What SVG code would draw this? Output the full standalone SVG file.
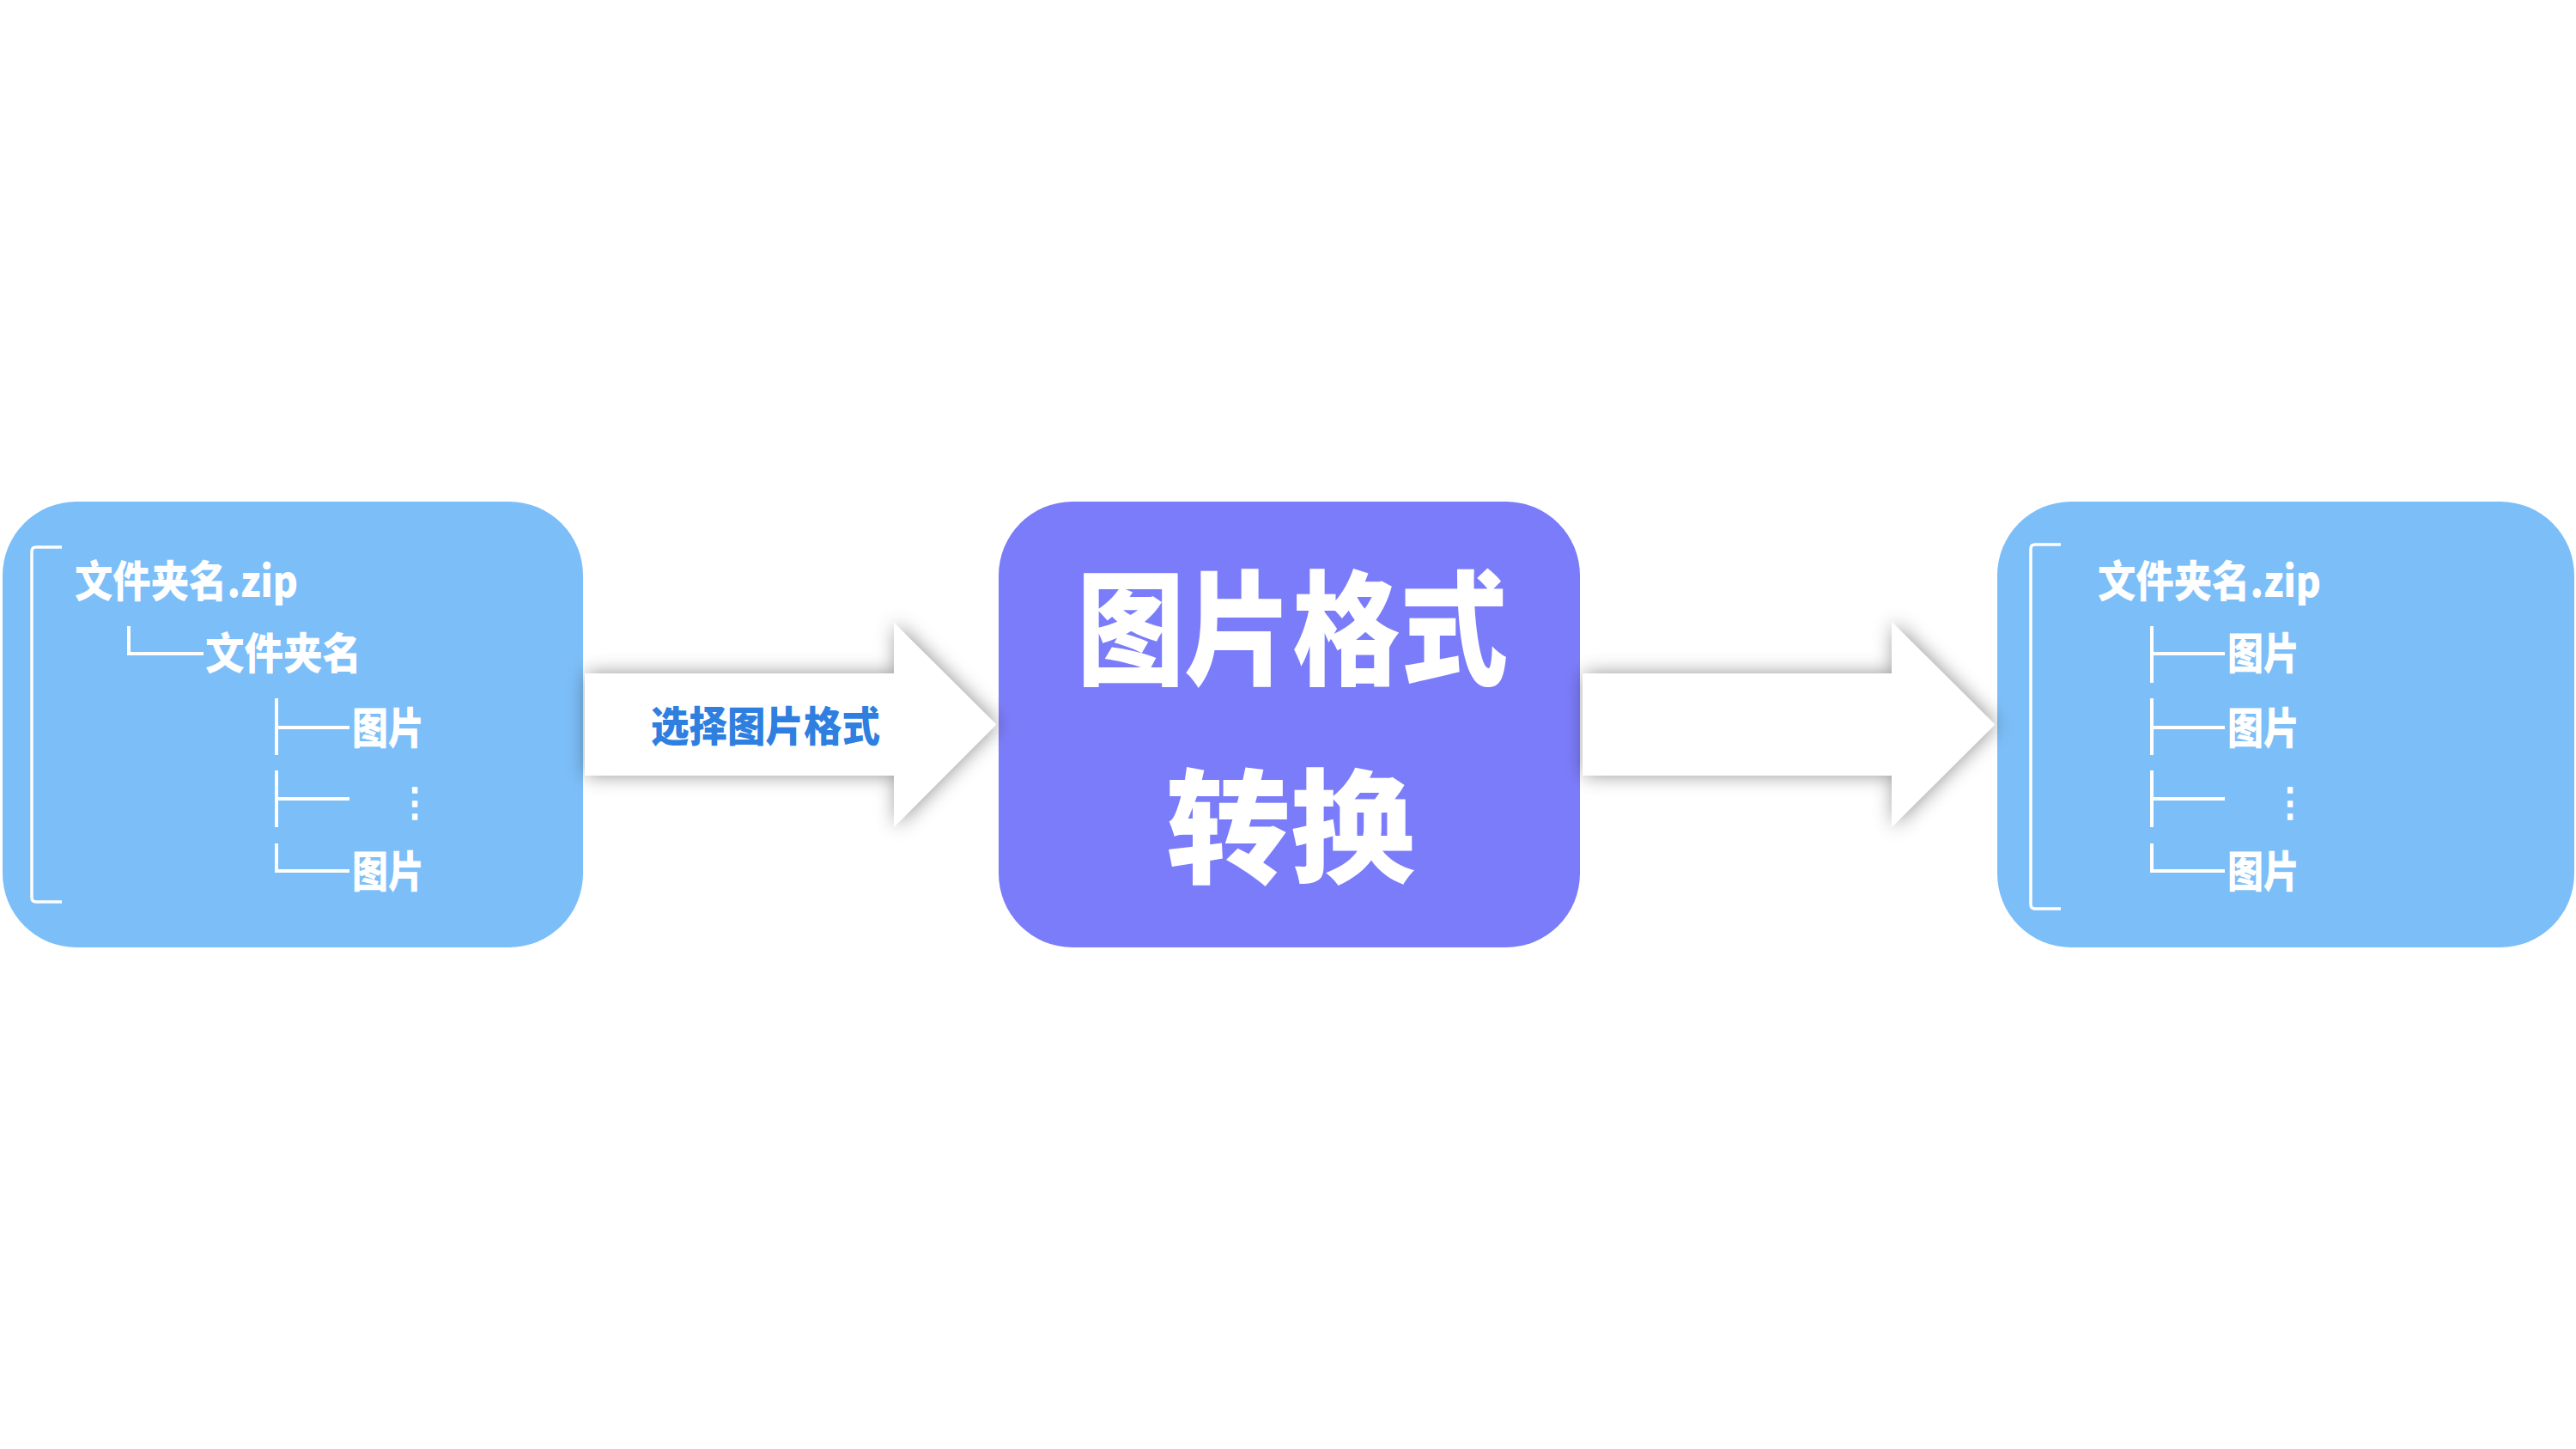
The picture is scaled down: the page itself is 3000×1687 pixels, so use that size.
<svg xmlns="http://www.w3.org/2000/svg" width="3000" height="1687" viewBox="0 0 3000 1687">
  <defs>
    <filter id="arrowShadow" x="-10%" y="-30%" width="120%" height="160%">
      <feDropShadow dx="2" dy="0" stdDeviation="11" flood-color="#000" flood-opacity="0.42"/>
    </filter>
    <style>
      .box-blue { fill: #7CBEF8; }
      .box-purple { fill: #7B7CF9; }
      .arrow { fill: #FFFFFF; filter: url(#arrowShadow); }
      .tree { stroke: #FFFFFF; stroke-width: 4; fill: none; }
      .bracket { stroke: #FFFFFF; stroke-width: 3.5; fill: none; stroke-linejoin: round; }
      .txt { fill: #FFFFFF; font-family: "Noto Sans CJK SC", "Noto Sans", sans-serif; font-weight: 900; }
      .item { font-size: 50px; }
      .title { font-size: 144px; }
      .label { fill: #2E7FE0; font-family: "Noto Sans CJK SC", "Noto Sans", sans-serif; font-weight: 900; font-size: 48px; }
      .dots { fill: #FFFFFF; font-family: "Noto Sans CJK SC", sans-serif; font-weight: 900; font-size: 46px; }
    </style>
  </defs>

  <rect width="3000" height="1687" fill="#FFFFFF"/>

  <!-- source archive -->
  <g id="node-source">
    <rect class="box-blue" x="3" y="584" width="676" height="519" rx="86" ry="86"/>
    <path class="bracket" d="M72 637 H42 Q37 637 37 642 V1045 Q37 1050 42 1050 H72"/>
    <text class="txt item" x="87" y="695" textLength="260" lengthAdjust="spacingAndGlyphs">文件夹名.zip</text>
    <path class="tree" d="M150 729 V761 H237"/>
    <text class="txt item" x="239" y="779" textLength="182" lengthAdjust="spacingAndGlyphs">文件夹名</text>
    <path class="tree" d="M322 813 V879 M322 847 H407"/>
    <text class="txt item" x="410" y="866" textLength="84" lengthAdjust="spacingAndGlyphs">图片</text>
    <path class="tree" d="M322 897 V963 M322 930 H407"/>
    <text class="dots" x="483" y="950" text-anchor="middle">⋮</text>
    <path class="tree" d="M322 982 V1014 H407"/>
    <text class="txt item" x="410" y="1033" textLength="84" lengthAdjust="spacingAndGlyphs">图片</text>
  </g>

  <!-- conversion step -->
  <g id="node-convert">
    <rect class="box-purple" x="1163" y="584" width="677" height="519" rx="86" ry="86"/>
    <text class="txt title" x="1254" y="786" textLength="502" lengthAdjust="spacingAndGlyphs">图片格式</text>
    <text class="txt title" x="1358" y="1017" textLength="290" lengthAdjust="spacingAndGlyphs">转换</text>
  </g>

  <!-- output archive -->
  <g id="node-output">
    <rect class="box-blue" x="2326" y="584" width="672" height="519" rx="86" ry="86"/>
    <path class="bracket" d="M2400 634 H2370 Q2365 634 2365 639 V1053 Q2365 1058 2370 1058 H2400"/>
    <text class="txt item" x="2443" y="695" textLength="260" lengthAdjust="spacingAndGlyphs">文件夹名.zip</text>
    <path class="tree" d="M2506 729 V795 M2506 761 H2591"/>
    <text class="txt item" x="2594" y="779" textLength="84" lengthAdjust="spacingAndGlyphs">图片</text>
    <path class="tree" d="M2506 813 V879 M2506 847 H2591"/>
    <text class="txt item" x="2594" y="866" textLength="84" lengthAdjust="spacingAndGlyphs">图片</text>
    <path class="tree" d="M2506 897 V963 M2506 930 H2591"/>
    <text class="dots" x="2667" y="950" text-anchor="middle">⋮</text>
    <path class="tree" d="M2506 982 V1014 H2591"/>
    <text class="txt item" x="2594" y="1033" textLength="84" lengthAdjust="spacingAndGlyphs">图片</text>
  </g>

  <!-- connectors -->
  <g id="connectors">
    <g id="edge-select">
      <polygon class="arrow" points="681,784 1041,784 1041,725 1160,843.5 1041,963 1041,903 681,903"/>
      <text class="label" x="758" y="863" textLength="267" lengthAdjust="spacingAndGlyphs">选择图片格式</text>
    </g>
    <g id="edge-output">
      <polygon class="arrow" points="1843,784 2203,784 2203,724 2323,843.5 2203,963 2203,903 1843,903"/>
    </g>
  </g>
</svg>
